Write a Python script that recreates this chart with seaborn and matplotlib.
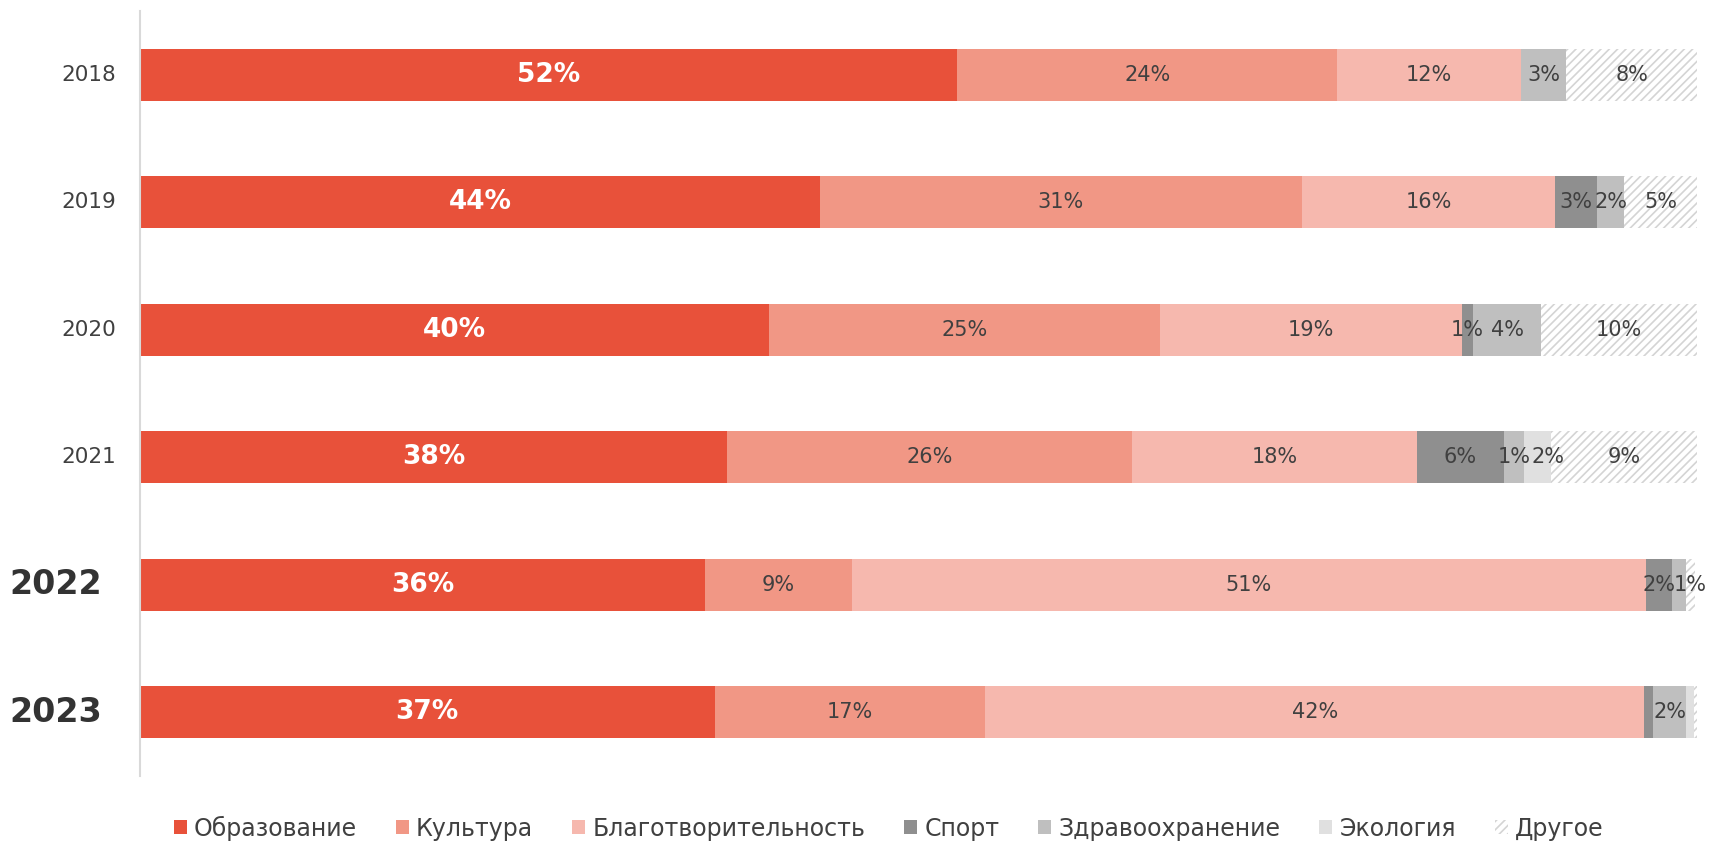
import numpy as np
import pandas as pd
import matplotlib
matplotlib.use('Agg')
import matplotlib.pyplot as plt
from matplotlib.patches import Patch
import seaborn as sns

# --- data (shares, % of total per year) ---
years = ['2018', '2019', '2020', '2021', '2022', '2023']
bold_years = ['2022', '2023']
categories = ['Образование', 'Культура', 'Благотворительность', 'Спорт',
              'Здравоохранение', 'Экология', 'Другое']
obrazovanie = [52.5, 43.7, 40.4, 37.7, 36.3, 36.9]
kultura = [24.4, 30.9, 25.1, 26.0, 9.4, 17.4]
blagotvor = [11.8, 16.3, 19.4, 18.3, 51.0, 42.3]
sport = [0.0, 2.7, 0.7, 5.6, 1.7, 0.6]
zdrav = [2.9, 1.7, 4.4, 1.3, 0.9, 2.1]
ekologiya = [0.0, 0.0, 0.0, 1.7, 0.0, 0.5]
drugoe = [8.4, 4.7, 10.0, 9.4, 0.6, 0.2]

colors = ['#E8513A', '#F19785', '#F6B8AE', '#8F8F8F', '#BFBFBF', '#E0E0E0', '#FFFFFF']
hatch_color = '#D4D4D4'
text_color = '#404040'

# small label nudges (pixels) where neighbouring labels would collide
nudges = {('2021', 'Экология'): 11, ('2022', 'Здравоохранение'): 11}

series = [obrazovanie, kultura, blagotvor, sport, zdrav, ekologiya, drugoe]
df = pd.DataFrame({'year': years})
for name, vals in zip(categories, series):
    df[name] = vals

sns.set_style('white')
plt.rcParams['font.family'] = ['DejaVu Sans']
plt.rcParams['hatch.linewidth'] = 1.2

fig = plt.figure(figsize=(17.09, 8.41), dpi=100)
ax = fig.add_axes([0.0819, 0.0773, 0.9111, 0.9097])

left = np.zeros(len(years))
for i, name in enumerate(categories):
    if name == 'Другое':
        kw = dict(hatch='////', edgecolor=hatch_color, linewidth=0)
    else:
        kw = dict(linewidth=0)
    sns.barplot(data=df, x=name, y='year', order=years, orient='h',
                color=colors[i], saturation=1, width=0.41, left=left,
                ax=ax, **kw)
    vals = df[name].values
    for j, v in enumerate(vals):
        if v >= 0.7:
            xc = left[j] + v / 2
            dx = nudges.get((years[j], name), 0)
            if i == 0:
                ax.annotate(f'{round(v)}%', xy=(xc, j), xytext=(dx, 0),
                            textcoords='offset pixels', ha='center', va='center',
                            color='white', fontsize=19, fontweight='bold')
            else:
                ax.annotate(f'{round(v)}%', xy=(xc, j), xytext=(dx, 0),
                            textcoords='offset pixels', ha='center', va='center',
                            color=text_color, fontsize=15)
    left = left + vals

ax.set_xlim(0, 100)
ax.set_ylim(5.5, -0.5)
ax.set_xlabel('')
ax.set_ylabel('')
ax.set_xticks([])
ax.set_yticks([])
for s in ['top', 'right', 'bottom']:
    ax.spines[s].set_visible(False)
ax.spines['left'].set_color('#D9D9D9')
ax.spines['left'].set_linewidth(1.5)

# year labels
for j, y in enumerate(years):
    if y in bold_years:
        ax.annotate(y, xy=(0, j), xycoords=ax.get_yaxis_transform(),
                    xytext=(-38, 0), textcoords='offset pixels',
                    ha='right', va='center', fontsize=24, fontweight='bold',
                    color='#333333')
    else:
        ax.annotate(y, xy=(0, j), xycoords=ax.get_yaxis_transform(),
                    xytext=(-24, 0), textcoords='offset pixels',
                    ha='right', va='center', fontsize=15.5, color=text_color)

handles = []
for i, name in enumerate(categories):
    if name == 'Другое':
        handles.append(Patch(facecolor='white', edgecolor=hatch_color, hatch='////',
                             linewidth=0, label=name))
    else:
        handles.append(Patch(facecolor=colors[i], linewidth=0, label=name))
fig.legend(handles=handles, loc='center', bbox_to_anchor=(0.52, 0.0155),
           ncol=7, frameon=False, fontsize=17, handlelength=0.55,
           handleheight=0.55, handletextpad=0.3, columnspacing=1.65,
           labelcolor=text_color)

plt.savefig('out.png', dpi=100)
plt.close()
